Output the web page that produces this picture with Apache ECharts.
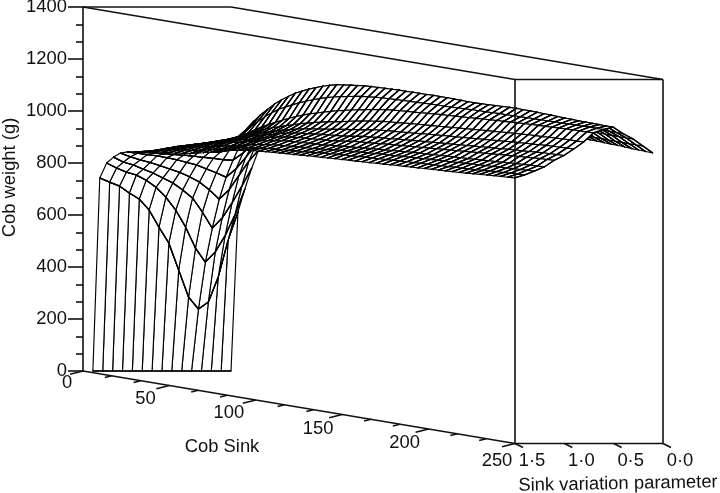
<!DOCTYPE html>
<html><head><meta charset="utf-8">
<style>html,body{margin:0;padding:0;background:#fff}#c{width:720px;height:493px}</style>
<script src="https://cdn.jsdelivr.net/npm/echarts@6/dist/echarts.min.js"></script>
</head><body><div id="c"></div>
<script>
const paramValues=[1.4,1.3,1.2,1.1,1.0,0.9,0.8,0.7,0.6,0.5,0.4,0.3,0.2,0.1,0.0];
const sinkValues=[0,4,8,12,16,20,24,28,32,36,40,44,48,52,56,60,64,68,72,76,80,84,88,92,96,100,104,108,112,116,120,124,128,132,136,140,144,148,152,156,160,164,168,172,176,180,184,188,192,196,200,204,208,212,216,220,224,228,232,236,240,244];
const weights=[
[0,0,0,0,0,0,0,0,0,0,0,0,0,0,0],
[747,731,716,689,666,624,558,497,393,289,243,270,366,508,616],
[809,790,774,763,743,716,678,628,563,482,428,467,530,610,709],
[836,817,806,790,775,756,737,710,679,625,563,602,660,725,794],
[856,842,830,820,808,795,782,765,745,715,679,715,770,825,868],
[865,860,855,850,843,835,825,815,800,785,768,800,845,890,921],
[870,868,866,863,860,857,853,849,845,840,838,865,900,935,964],
[875,878,881,882,881,880,878,875,873,885,900,925,950,975,995],
[879,886,893,899,902,904,903,901,903,932,965,975,995,1010,1025],
[883,891,899,907,912,916,918,921,926,960,1000,1005,1015,1030,1040],
[886,895,904,913,919,925,929,936,946,985,1030,1030,1035,1045,1052],
[889,899,909,919,926,934,940,950,963,1008,1055,1052,1052,1058,1062],
[892,903,914,925,933,942,950,963,980,1030,1080,1072,1067,1068,1070],
[895,907,919,931,940,950,960,975,996,1050,1100,1090,1080,1078,1076],
[898,911,924,937,947,958,969,986,1010,1068,1118,1106,1092,1086,1082],
[905,918,931,944,955,967,979,997,1023,1082,1135,1120,1102,1093,1087],
[911,924,937,951,962,975,988,1007,1036,1095,1148,1132,1112,1100,1092],
[917,929,941,955,967,981,996,1015,1048,1107,1160,1143,1121,1106,1096],
[924,935,947,962,974,989,1004,1024,1059,1118,1170,1152,1129,1112,1100],
[930,941,953,968,981,995,1011,1032,1069,1128,1180,1160,1136,1117,1104],
[938,948,960,975,988,1003,1018,1040,1078,1137,1188,1167,1142,1122,1108],
[942,952,965,979,993,1008,1024,1047,1086,1145,1194,1173,1148,1126,1111],
[947,956,969,984,998,1013,1030,1054,1094,1152,1198,1178,1153,1130,1114],
[951,960,973,988,1002,1017,1034,1060,1101,1158,1202,1183,1157,1133,1117],
[953,963,976,991,1005,1020,1038,1065,1108,1163,1205,1187,1161,1136,1119],
[955,965,978,993,1007,1023,1042,1070,1114,1168,1208,1190,1164,1138,1121],
[957,967,980,995,1009,1026,1046,1075,1120,1172,1210,1192,1166,1140,1123],
[959,969,982,996,1011,1028,1050,1081,1125,1175,1211,1194,1168,1142,1124],
[961,971,984,998,1013,1031,1054,1086,1130,1178,1212,1195,1169,1143,1125],
[962,973,985,999,1015,1033,1058,1091,1135,1180,1213,1196,1170,1144,1126],
[964,975,988,1002,1019,1037,1062,1095,1139,1181,1214,1197,1171,1145,1126],
[966,978,990,1004,1022,1041,1066,1099,1143,1182,1214,1197,1172,1145,1127],
[968,981,993,1007,1026,1045,1071,1103,1146,1183,1215,1198,1172,1146,1127],
[969,983,996,1009,1028,1047,1073,1105,1148,1184,1215,1198,1172,1146,1127],
[971,985,998,1011,1030,1050,1076,1107,1150,1185,1215,1198,1172,1146,1127],
[973,987,1000,1014,1032,1052,1078,1110,1152,1186,1216,1198,1173,1146,1127],
[974,988,1002,1016,1035,1054,1080,1112,1154,1187,1216,1198,1173,1146,1127],
[976,990,1004,1018,1037,1057,1082,1114,1156,1188,1216,1198,1173,1146,1127],
[977,992,1006,1020,1039,1059,1084,1116,1158,1188,1215,1197,1173,1146,1127],
[979,993,1008,1022,1041,1061,1087,1118,1160,1189,1215,1197,1172,1146,1126],
[980,995,1009,1024,1043,1063,1089,1120,1161,1190,1214,1197,1172,1145,1126],
[982,996,1011,1026,1045,1065,1091,1122,1163,1191,1214,1197,1172,1145,1126],
[983,998,1013,1028,1047,1067,1093,1124,1165,1192,1215,1196,1171,1145,1125],
[985,999,1014,1030,1049,1069,1095,1126,1166,1193,1216,1196,1171,1145,1125],
[987,1001,1016,1031,1051,1071,1097,1128,1168,1193,1217,1196,1171,1144,1125],
[988,1002,1017,1033,1053,1073,1099,1130,1170,1194,1218,1195,1171,1144,1124],
[990,1004,1019,1034,1055,1075,1101,1132,1171,1195,1219,1195,1170,1144,1124],
[991,1005,1020,1036,1057,1077,1103,1134,1173,1195,1220,1195,1170,1143,1124],
[993,1007,1022,1037,1059,1079,1105,1136,1174,1196,1219,1194,1170,1143,1123],
[994,1008,1023,1039,1061,1081,1107,1138,1176,1196,1219,1194,1169,1143,1123],
[996,1009,1025,1040,1063,1083,1109,1140,1177,1197,1218,1193,1169,1142,1122],
[997,1011,1026,1042,1065,1085,1111,1142,1179,1197,1217,1192,1168,1142,1122],
[999,1012,1028,1043,1067,1087,1113,1143,1180,1198,1216,1192,1168,1141,1121],
[1000,1014,1029,1045,1069,1089,1115,1145,1181,1198,1215,1191,1168,1141,1120],
[1002,1015,1031,1046,1071,1091,1117,1146,1182,1199,1214,1190,1167,1140,1119],
[1004,1017,1032,1048,1073,1092,1118,1147,1183,1199,1213,1190,1167,1140,1118],
[1006,1019,1034,1050,1075,1094,1120,1149,1184,1200,1212,1189,1166,1139,1117],
[1008,1021,1035,1052,1076,1096,1122,1150,1185,1200,1212,1188,1166,1139,1116],
[1010,1022,1037,1053,1078,1098,1123,1151,1186,1200,1211,1187,1165,1138,1114],
[1012,1024,1038,1055,1080,1099,1124,1152,1187,1201,1211,1186,1165,1138,1113],
[1013,1025,1040,1056,1081,1100,1125,1152,1187,1201,1210,1186,1165,1138,1112],
[1015,1026,1041,1057,1082,1101,1126,1153,1188,1201,1210,1185,1165,1138,1111]
];
const weightMax=1400, sinkMax=250, paramMax=1.5;
const sinkMajor=[0,50,100,150,200,250];
const sinkMinorStep=50/3;
const paramMajor=[1.5,1.0,0.5,0.0];
const paramLabels=['1·5','1·0','0·5','0·0'];

const FONT='"Liberation Sans", Arial, sans-serif', INK='#111';
// oblique projection onto the hidden sink x axis and the visible weight y axis
const paramShift=57.1;   // sink units of rightward shift per unit of parameter
const sinkDrop=1.1154;   // grams of downward shift per unit of sink
const proj=(s,p,z)=>[s+(paramMax-p)*paramShift, z-s*sinkDrop];

const cells=[];
for(let i=0;i<sinkValues.length-1;i++)
  for(let j=paramValues.length-2;j>=0;j--) cells.push([i,j]);

function seg(a,b,w){return {type:'line',shape:{x1:a[0],y1:a[1],x2:b[0],y2:b[1]},style:{stroke:'#000',lineWidth:w,lineCap:'round'}};}
function renderCell(params,api){
  const i=api.value(0), j=api.value(1);
  const c=(a,b)=>api.coord(proj(sinkValues[a],paramValues[b],weights[a][b]));
  const A=c(i,j),B=c(i,j+1),C=c(i+1,j+1),D=c(i+1,j);
  return {type:'group',children:[
    {type:'polygon',shape:{points:[A,B,C,D]},style:{fill:'#fff',stroke:'#000',lineWidth:1.15,lineJoin:'round'}},
    seg(A,B,1.35),seg(D,C,1.35)
  ]};
}
const boxEdges=[
 [[0,paramMax,weightMax],[0,0,weightMax]],
 [[0,paramMax,weightMax],[sinkMax,paramMax,weightMax]],
 [[0,0,weightMax],[sinkMax,0,weightMax]],
 [[sinkMax,paramMax,weightMax],[sinkMax,0,weightMax]],
 [[sinkMax,paramMax,weightMax],[sinkMax,paramMax,0]],
 [[sinkMax,0,weightMax],[sinkMax,0,0]],
 [[0,paramMax,0],[sinkMax,paramMax,0]],
 [[sinkMax,paramMax,0],[sinkMax,0,0]]
];
function line(a,b){return {type:'line',shape:{x1:a[0],y1:a[1],x2:b[0],y2:b[1]},style:{stroke:INK,lineWidth:1.6}};}
function text(t,x,y,rot){return {type:'text',x:x,y:y,rotation:rot||0,style:{text:t,font:'18.4px '+FONT,fill:INK,align:'center',verticalAlign:'middle'}};}
const sinkOffsets=[[-16,12],[-24,13],[-27,13],[-24,14],[-24,14],[-18,17]];
function renderFrame(params,api){
  const kids=[];
  boxEdges.forEach(e=>kids.push(line(api.coord(proj.apply(null,e[0])),api.coord(proj.apply(null,e[1])))));
  for(let t=0,k=0;t<=sinkMax+0.01;t+=sinkMinorStep,k++){
    const q=api.coord(proj(t,paramMax,0)), major=k%3===0;
    const n=major?13:7;
    kids.push(line(q,[q[0]-n,q[1]+n*0.25]));
  }
  sinkMajor.forEach((t,k)=>{
    const q=api.coord(proj(t,paramMax,0));
    kids.push(text(String(t),q[0]+sinkOffsets[k][0],q[1]+sinkOffsets[k][1]));
  });
  paramMajor.forEach((p,k)=>{
    const q=api.coord(proj(sinkMax,p,0));
    kids.push(line(q,[q[0]+8,q[1]+4]));
    kids.push(text(paramLabels[k],q[0]+17,q[1]+17));
  });
  kids.push(text('Cob Sink',222,447));
  kids.push(text('Sink variation parameter',618,484,0.018));
  return {type:'group',children:kids};
}
const chart=echarts.init(document.getElementById('c'),null,{renderer:'canvas'});
chart.setOption({
  animation:false,
  backgroundColor:'#fff',
  grid:{left:83,top:7,width:432,height:364,containLabel:false,outerBoundsMode:'none'},
  xAxis:{type:'value',min:0,max:sinkMax,show:false},
  yAxis:{type:'value',min:0,max:weightMax,interval:200,
    name:'Cob weight (g)',nameLocation:'middle',nameGap:64,nameRotate:90,nameMoveOverlap:false,
    nameTextStyle:{fontFamily:FONT,fontSize:18.4,color:INK,padding:[0,0,0,23]},
    axisLine:{show:true,lineStyle:{color:INK,width:1.6}},
    axisTick:{show:true,length:15,lineStyle:{color:INK,width:1.6}},
    minorTick:{show:true,splitNumber:3,length:7,lineStyle:{color:INK,width:1.6}},
    splitLine:{show:false},minorSplitLine:{show:false},
    axisLabel:{margin:16,fontFamily:FONT,fontSize:18.4,color:INK,formatter:v=>String(v)}},
  series:[
    {type:'custom',coordinateSystem:'cartesian2d',data:cells,renderItem:renderCell,silent:true,z:2,clip:false},
    {type:'custom',coordinateSystem:'cartesian2d',data:[[0,0]],renderItem:renderFrame,silent:true,z:3,clip:false}
  ]
});
</script></body></html>
